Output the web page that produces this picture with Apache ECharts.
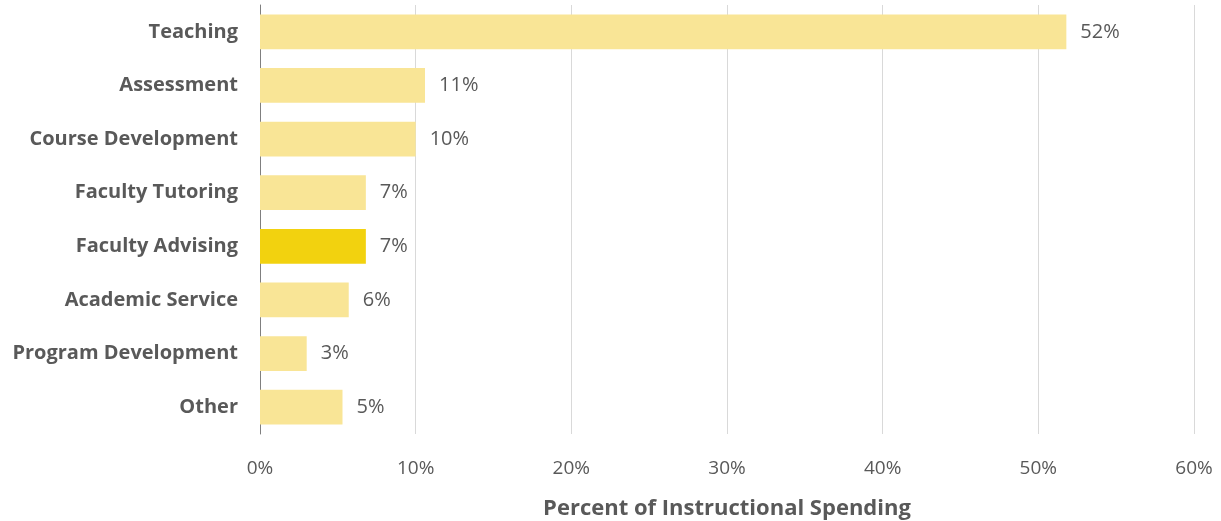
<!DOCTYPE html>
<html>
<head>
<meta charset="utf-8">
<script src="https://cdn.jsdelivr.net/npm/echarts@6/dist/echarts.min.js"></script>
<style>
  html, body { margin: 0; padding: 0; background: #fff; }
  #chart { width: 1221px; height: 521px; }
</style>
</head>
<body>
<div id="chart"></div>
<script>
// Share of instructional spending by activity (percent)
const categories = [
  'Teaching', 'Assessment', 'Course Development', 'Faculty Tutoring',
  'Faculty Advising', 'Academic Service', 'Program Development', 'Other'
];
const spending = [51.8, 10.6, 10.0, 6.8, 6.8, 5.7, 3.0, 5.3];
const highlighted = 'Faculty Advising';
const xTicks = [0, 10, 20, 30, 40, 50, 60];

const PALE = '#F9E596';
const STRONG = '#F2D20F';
const TEXT = '#595959';

const chart = echarts.init(document.getElementById('chart'));
chart.setOption({
  animation: false,
  grid: { left: 260, right: 27, top: 5, bottom: 87, containLabel: false, outerBoundsMode: 'none' },
  xAxis: {
    type: 'value',
    min: xTicks[0],
    max: xTicks[xTicks.length - 1],
    interval: xTicks[1] - xTicks[0],
    name: 'Percent of Instructional Spending',
    nameLocation: 'middle',
    nameGap: 64,
    nameTextStyle: { color: TEXT, fontFamily: 'Open Sans', fontWeight: 'bold', fontSize: 22, verticalAlign: 'top' },
    axisLine: { show: false },
    axisTick: { show: false },
    axisLabel: { color: TEXT, fontFamily: 'Open Sans', fontSize: 19, margin: 25, formatter: v => v + '%' },
    splitLine: { show: true, lineStyle: { color: '#D9D9D9', width: 1 } }
  },
  yAxis: {
    type: 'category',
    data: categories,
    inverse: true,
    axisLine: { show: true, lineStyle: { color: '#7F7F7F', width: 1 } },
    axisTick: { show: false },
    axisLabel: { color: TEXT, fontFamily: 'Open Sans', fontWeight: 'bold', fontSize: 20, margin: 22 }
  },
  series: [{
    type: 'bar',
    data: spending.map((v, i) => ({
      value: v,
      itemStyle: { color: categories[i] === highlighted ? STRONG : PALE }
    })),
    barCategoryGap: '35%',
    label: {
      show: true,
      position: 'right',
      distance: 14,
      color: TEXT,
      fontFamily: 'Open Sans',
      fontSize: 20,
      formatter: p => Math.round(p.value) + '%'
    }
  }]
});
</script>
</body>
</html>
